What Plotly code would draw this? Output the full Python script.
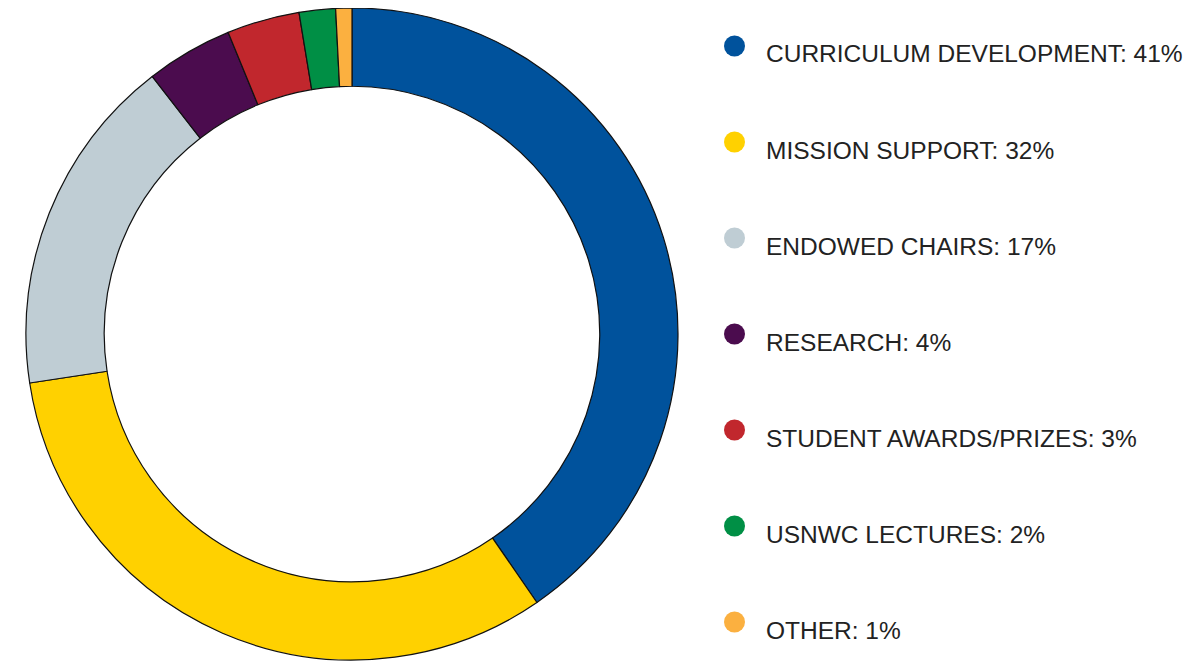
import plotly.graph_objects as go

categories = ["CURRICULUM DEVELOPMENT", "MISSION SUPPORT", "ENDOWED CHAIRS", "RESEARCH",
              "STUDENT AWARDS/PRIZES", "USNWC LECTURES", "OTHER"]
label_pcts = [41, 32, 17, 4, 3, 2, 1]
slice_values = [40.4, 32.2, 16.9, 4.3, 3.6, 1.8, 0.8]
colors = ["#00529C", "#FFD100", "#BFCDD4", "#4B0C4E", "#C1272D", "#008F45", "#FBB040"]

W, H = 1194, 663
R = 326  # pie radius in px
CX, CY = 344, 326  # pie centre in px from top-left of the figure

fig = go.Figure()
fig.add_trace(go.Pie(
    labels=categories,
    values=slice_values,
    hole=0.76,
    sort=False,
    direction="clockwise",
    rotation=0,
    marker=dict(colors=colors, line=dict(color="#111111", width=1.2)),
    textinfo="none",
    hoverinfo="label+percent",
    showlegend=False,
    domain=dict(x=[(CX - 340) / W, (CX + 340) / W],
                y=[1 - (CY + R) / H, 1 - (CY - R) / H]),
))

# custom legend
text_x = 756
dot_x = 726.5
dot_r = 10.5
text_y0, dot_y0, step = 46, 38, 96
annotations = []
shapes = []
for i, (cat, pct, col) in enumerate(zip(categories, label_pcts, colors)):
    ty = text_y0 + i * step
    dy = dot_y0 + i * step
    annotations.append(dict(
        x=text_x / W, y=1 - ty / H, xref="paper", yref="paper",
        xanchor="left", yanchor="middle", showarrow=False,
        text=f"{cat}: {pct}%",
        font=dict(family="Liberation Sans, Arial, sans-serif", size=24.5, color="#222222"),
    ))
    shapes.append(dict(
        type="circle", xref="paper", yref="paper",
        x0=(dot_x - dot_r) / W, x1=(dot_x + dot_r) / W,
        y0=1 - (dy + dot_r) / H, y1=1 - (dy - dot_r) / H,
        fillcolor=col, line=dict(width=0),
    ))

fig.update_layout(
    width=W, height=H,
    margin=dict(l=0, r=0, t=0, b=0),
    paper_bgcolor="white", plot_bgcolor="white",
    annotations=annotations, shapes=shapes,
)

fig.write_html("out.html")
